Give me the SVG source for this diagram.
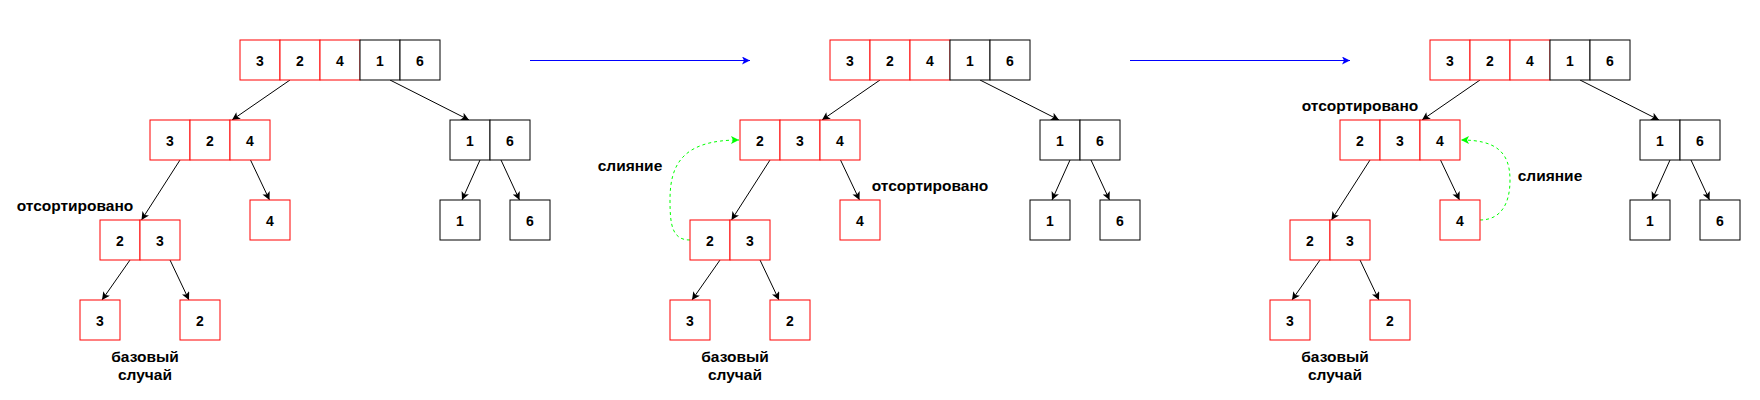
<svg xmlns="http://www.w3.org/2000/svg" width="1760" height="400" viewBox="0 0 1760 400">
<style>
  .r { fill: #ffffff; stroke: #ff0000; stroke-width: 1; }
  .k { fill: #ffffff; stroke: #000000; stroke-width: 1; }
  .d { font-family: "Liberation Sans", Arial, sans-serif; font-size: 14px; font-weight: bold; text-anchor: middle; fill: #000000; }
  .lbl { font-family: "Liberation Sans", Arial, sans-serif; font-size: 15.5px; font-weight: bold; text-anchor: middle; fill: #000000; }
  .e { fill: none; stroke: #000000; stroke-width: 1; marker-end: url(#ah); }
  .b { fill: none; stroke: #0000ff; stroke-width: 1; marker-end: url(#ab); }
  .g { fill: none; stroke: #00ff00; stroke-width: 1; stroke-dasharray: 3 3; marker-end: url(#ag); }
</style>
<defs>
  <marker id="ah" markerUnits="userSpaceOnUse" viewBox="0 0 8 8" refX="8" refY="4" markerWidth="8" markerHeight="8" orient="auto">
    <path d="M0,0 L8,4 L0,8 L2,4 Z" fill="#000000"/>
  </marker>
  <marker id="ab" markerUnits="userSpaceOnUse" viewBox="0 0 8 8" refX="8" refY="4" markerWidth="8" markerHeight="8" orient="auto">
    <path d="M0,0 L8,4 L0,8 L2,4 Z" fill="#0000ff"/>
  </marker>
  <marker id="ag" markerUnits="userSpaceOnUse" viewBox="0 0 8 8" refX="8" refY="4" markerWidth="8" markerHeight="8" orient="auto">
    <path d="M0,0 L8,4 L0,8 L2,4 Z" fill="#00ff00"/>
  </marker>
</defs>

<!-- Panel 1 -->
<g id="panel1">
  <g id="connectors1">
    <line class="e" x1="290" y1="80" x2="232" y2="120"/>
    <line class="e" x1="390" y1="80" x2="469" y2="120"/>
    <line class="e" x1="180" y1="160" x2="141.5" y2="220"/>
    <line class="e" x1="250.5" y1="160" x2="269.5" y2="200"/>
    <line class="e" x1="480" y1="160" x2="462" y2="200"/>
    <line class="e" x1="501" y1="160" x2="519.5" y2="200"/>
    <line class="e" x1="130" y1="260" x2="102" y2="300"/>
    <line class="e" x1="170" y1="260" x2="189" y2="300"/>
  </g>
  <g id="p1-top">
    <rect class="r" x="240" y="40" width="40" height="40"/><text class="d" x="260" y="65.5">3</text>
    <rect class="r" x="280" y="40" width="40" height="40"/><text class="d" x="300" y="65.5">2</text>
    <rect class="r" x="320" y="40" width="40" height="40"/><text class="d" x="340" y="65.5">4</text>
    <rect class="k" x="360" y="40" width="40" height="40"/><text class="d" x="380" y="65.5">1</text>
    <rect class="k" x="400" y="40" width="40" height="40"/><text class="d" x="420" y="65.5">6</text>
  </g>
  <g id="p1-left">
    <rect class="r" x="150" y="120" width="40" height="40"/><text class="d" x="170" y="145.5">3</text>
    <rect class="r" x="190" y="120" width="40" height="40"/><text class="d" x="210" y="145.5">2</text>
    <rect class="r" x="230" y="120" width="40" height="40"/><text class="d" x="250" y="145.5">4</text>
  </g>
  <g id="p1-right">
    <rect class="k" x="450" y="120" width="40" height="40"/><text class="d" x="470" y="145.5">1</text>
    <rect class="k" x="490" y="120" width="40" height="40"/><text class="d" x="510" y="145.5">6</text>
  </g>
  <g id="p1-pair">
    <rect class="r" x="100" y="220" width="40" height="40"/><text class="d" x="120" y="245.5">2</text>
    <rect class="r" x="140" y="220" width="40" height="40"/><text class="d" x="160" y="245.5">3</text>
  </g>
  <g id="p1-four"><rect class="r" x="250" y="200" width="40" height="40"/><text class="d" x="270" y="225.5">4</text></g>
  <g id="p1-one"><rect class="k" x="440" y="200" width="40" height="40"/><text class="d" x="460" y="225.5">1</text></g>
  <g id="p1-six"><rect class="k" x="510" y="200" width="40" height="40"/><text class="d" x="530" y="225.5">6</text></g>
  <g id="p1-three"><rect class="r" x="80" y="300" width="40" height="40"/><text class="d" x="100" y="325.5">3</text></g>
  <g id="p1-two"><rect class="r" x="180" y="300" width="40" height="40"/><text class="d" x="200" y="325.5">2</text></g>
  <g id="p1-label-sorted"><text class="lbl" x="75" y="211">отсортировано</text></g>
  <g id="p1-label-base"><text class="lbl" x="145" y="361.5">базовый</text><text class="lbl" x="145" y="380">случай</text></g>
</g>

<!-- Panel 2 -->
<g id="panel2">
  <g id="connectors2">
    <line class="e" x1="880" y1="80" x2="822" y2="120"/>
    <line class="e" x1="980" y1="80" x2="1059" y2="120"/>
    <line class="e" x1="770" y1="160" x2="731.5" y2="220"/>
    <line class="e" x1="840.5" y1="160" x2="859.5" y2="200"/>
    <line class="e" x1="1070" y1="160" x2="1052" y2="200"/>
    <line class="e" x1="1091" y1="160" x2="1109.5" y2="200"/>
    <line class="e" x1="720" y1="260" x2="692" y2="300"/>
    <line class="e" x1="760" y1="260" x2="779" y2="300"/>
    <path class="g" d="M690,240 C672,240 670,225 670,200 C670,165 682,140 739,140"/>
  </g>
  <g id="p2-top">
    <rect class="r" x="830" y="40" width="40" height="40"/><text class="d" x="850" y="65.5">3</text>
    <rect class="r" x="870" y="40" width="40" height="40"/><text class="d" x="890" y="65.5">2</text>
    <rect class="r" x="910" y="40" width="40" height="40"/><text class="d" x="930" y="65.5">4</text>
    <rect class="k" x="950" y="40" width="40" height="40"/><text class="d" x="970" y="65.5">1</text>
    <rect class="k" x="990" y="40" width="40" height="40"/><text class="d" x="1010" y="65.5">6</text>
  </g>
  <g id="p2-left">
    <rect class="r" x="740" y="120" width="40" height="40"/><text class="d" x="760" y="145.5">2</text>
    <rect class="r" x="780" y="120" width="40" height="40"/><text class="d" x="800" y="145.5">3</text>
    <rect class="r" x="820" y="120" width="40" height="40"/><text class="d" x="840" y="145.5">4</text>
  </g>
  <g id="p2-right">
    <rect class="k" x="1040" y="120" width="40" height="40"/><text class="d" x="1060" y="145.5">1</text>
    <rect class="k" x="1080" y="120" width="40" height="40"/><text class="d" x="1100" y="145.5">6</text>
  </g>
  <g id="p2-pair">
    <rect class="r" x="690" y="220" width="40" height="40"/><text class="d" x="710" y="245.5">2</text>
    <rect class="r" x="730" y="220" width="40" height="40"/><text class="d" x="750" y="245.5">3</text>
  </g>
  <g id="p2-four"><rect class="r" x="840" y="200" width="40" height="40"/><text class="d" x="860" y="225.5">4</text></g>
  <g id="p2-one"><rect class="k" x="1030" y="200" width="40" height="40"/><text class="d" x="1050" y="225.5">1</text></g>
  <g id="p2-six"><rect class="k" x="1100" y="200" width="40" height="40"/><text class="d" x="1120" y="225.5">6</text></g>
  <g id="p2-three"><rect class="r" x="670" y="300" width="40" height="40"/><text class="d" x="690" y="325.5">3</text></g>
  <g id="p2-two"><rect class="r" x="770" y="300" width="40" height="40"/><text class="d" x="790" y="325.5">2</text></g>
  <g id="p2-label-merge"><text class="lbl" x="630" y="171">слияние</text></g>
  <g id="p2-label-sorted"><text class="lbl" x="930" y="191">отсортировано</text></g>
  <g id="p2-label-base"><text class="lbl" x="735" y="361.5">базовый</text><text class="lbl" x="735" y="380">случай</text></g>
</g>

<!-- Panel 3 -->
<g id="panel3">
  <g id="connectors3">
    <line class="e" x1="1480" y1="80" x2="1422" y2="120"/>
    <line class="e" x1="1580" y1="80" x2="1659" y2="120"/>
    <line class="e" x1="1370" y1="160" x2="1331.5" y2="220"/>
    <line class="e" x1="1440.5" y1="160" x2="1459.5" y2="200"/>
    <line class="e" x1="1670" y1="160" x2="1652" y2="200"/>
    <line class="e" x1="1691" y1="160" x2="1709.5" y2="200"/>
    <line class="e" x1="1320" y1="260" x2="1292" y2="300"/>
    <line class="e" x1="1360" y1="260" x2="1379" y2="300"/>
    <path class="g" d="M1480,220 C1500,220 1510,205 1510,180 C1510,152 1496,140 1461,140"/>
  </g>
  <g id="p3-top">
    <rect class="r" x="1430" y="40" width="40" height="40"/><text class="d" x="1450" y="65.5">3</text>
    <rect class="r" x="1470" y="40" width="40" height="40"/><text class="d" x="1490" y="65.5">2</text>
    <rect class="r" x="1510" y="40" width="40" height="40"/><text class="d" x="1530" y="65.5">4</text>
    <rect class="k" x="1550" y="40" width="40" height="40"/><text class="d" x="1570" y="65.5">1</text>
    <rect class="k" x="1590" y="40" width="40" height="40"/><text class="d" x="1610" y="65.5">6</text>
  </g>
  <g id="p3-left">
    <rect class="r" x="1340" y="120" width="40" height="40"/><text class="d" x="1360" y="145.5">2</text>
    <rect class="r" x="1380" y="120" width="40" height="40"/><text class="d" x="1400" y="145.5">3</text>
    <rect class="r" x="1420" y="120" width="40" height="40"/><text class="d" x="1440" y="145.5">4</text>
  </g>
  <g id="p3-right">
    <rect class="k" x="1640" y="120" width="40" height="40"/><text class="d" x="1660" y="145.5">1</text>
    <rect class="k" x="1680" y="120" width="40" height="40"/><text class="d" x="1700" y="145.5">6</text>
  </g>
  <g id="p3-pair">
    <rect class="r" x="1290" y="220" width="40" height="40"/><text class="d" x="1310" y="245.5">2</text>
    <rect class="r" x="1330" y="220" width="40" height="40"/><text class="d" x="1350" y="245.5">3</text>
  </g>
  <g id="p3-four"><rect class="r" x="1440" y="200" width="40" height="40"/><text class="d" x="1460" y="225.5">4</text></g>
  <g id="p3-one"><rect class="k" x="1630" y="200" width="40" height="40"/><text class="d" x="1650" y="225.5">1</text></g>
  <g id="p3-six"><rect class="k" x="1700" y="200" width="40" height="40"/><text class="d" x="1720" y="225.5">6</text></g>
  <g id="p3-three"><rect class="r" x="1270" y="300" width="40" height="40"/><text class="d" x="1290" y="325.5">3</text></g>
  <g id="p3-two"><rect class="r" x="1370" y="300" width="40" height="40"/><text class="d" x="1390" y="325.5">2</text></g>
  <g id="p3-label-sorted"><text class="lbl" x="1360" y="111">отсортировано</text></g>
  <g id="p3-label-merge"><text class="lbl" x="1550" y="181">слияние</text></g>
  <g id="p3-label-base"><text class="lbl" x="1335" y="361.5">базовый</text><text class="lbl" x="1335" y="380">случай</text></g>
</g>

<!-- Transition arrows -->
<g id="transitions">
  <line class="b" x1="530" y1="60.5" x2="750" y2="60.5"/>
  <line class="b" x1="1130" y1="60.5" x2="1350" y2="60.5"/>
</g>
</svg>
